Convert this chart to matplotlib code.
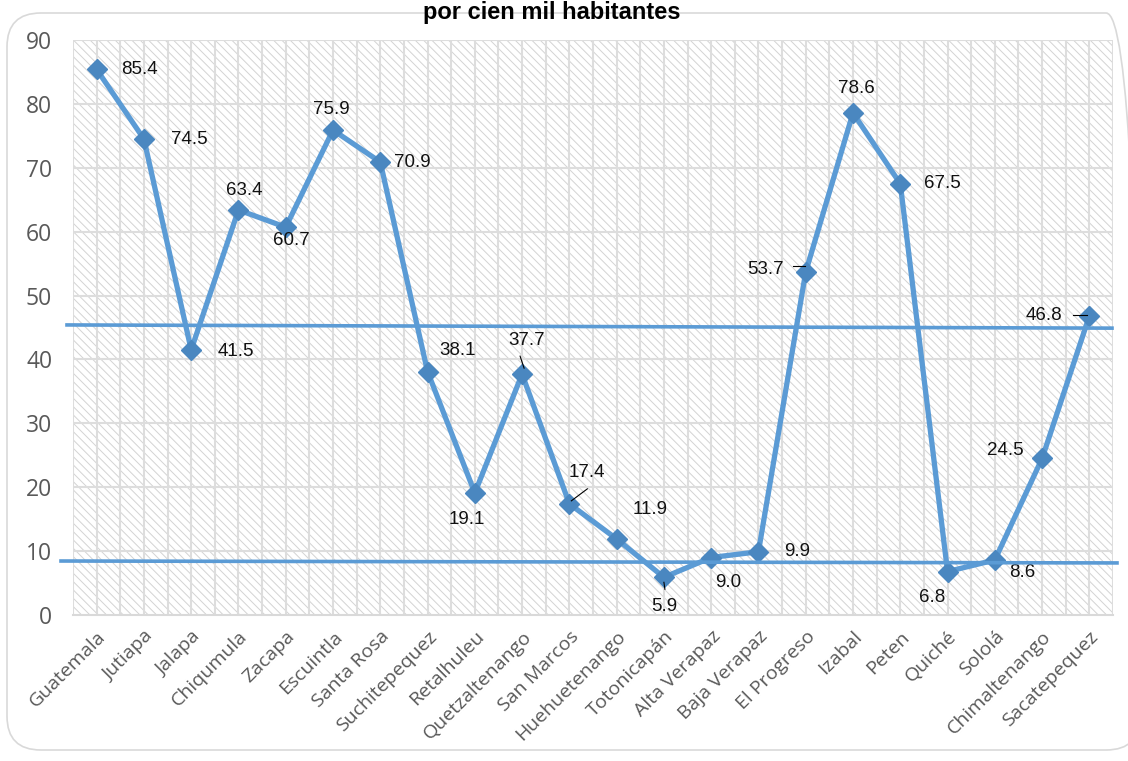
import matplotlib
matplotlib.use("Agg")
import matplotlib.pyplot as plt
from matplotlib.patches import FancyBboxPatch, Rectangle
from matplotlib.lines import Line2D

departments = ["Guatemala", "Jutiapa", "Jalapa", "Chiqumula", "Zacapa", "Escuintla",
               "Santa Rosa", "Suchitepequez", "Retalhuleu", "Quetzaltenango", "San Marcos",
               "Huehuetenango", "Totonicapán", "Alta Verapaz", "Baja Verapaz", "El Progreso",
               "Izabal", "Peten", "Quiché", "Sololá", "Chimaltenango", "Sacatepequez"]
rates = [85.4, 74.5, 41.5, 63.4, 60.7, 75.9, 70.9, 38.1, 19.1, 37.7, 17.4,
         11.9, 5.9, 9.0, 9.9, 53.7, 78.6, 67.5, 6.8, 8.6, 24.5, 46.8]
# hand-drawn reference lines (left value, right value)
upper_ref = [45.4, 44.9]
lower_ref = [8.45, 8.15]

# label offsets in pixels (dx, dy)
offsets = [(43, 0), (45, 0), (45, -2), (6, 19), (6, -13), (-2, 21), (32, 0),
           (30, 21), (-8, -27), (5, 34), (18, 31), (33, 29), (0, -29), (17, -25),
           (39, 0), (-40, 2), (3, 24), (42, 0), (-15, -26), (27, -12), (-37, 8), (-45, 1)]

W, H = 1128, 761
fig = plt.figure(figsize=(W / 100, H / 100), dpi=100)
fig.patch.set_facecolor("white")

# outer rounded frame
frame = FancyBboxPatch((7 / W, 1 - 750 / H), (1140 - 7) / W, (750 - 13) / H,
                       boxstyle="round,pad=0,rounding_size=0.03",
                       transform=fig.transFigure, facecolor="none",
                       edgecolor="#D9D9D9", linewidth=1.2, mutation_aspect=W / H,
                       zorder=-1)
fig.patches.append(frame)

ax = fig.add_axes([73 / W, 1 - 615 / H, (1113 - 73) / W, (615 - 40) / H])
ax.set_facecolor("white")
plt.rcParams["hatch.linewidth"] = 0.7
bg = Rectangle((0, 0), 1, 1, transform=ax.transAxes, facecolor="white",
               edgecolor="#D3D3D3", linewidth=0, hatch="\\\\\\\\", zorder=0)
ax.add_patch(bg)

x = list(range(len(departments)))
ax.set_xlim(-0.5, len(departments) - 0.5)
ax.set_ylim(0, 90)

for v in [i * 0.5 - 0.5 for i in range(2 * len(departments) + 1)]:
    ax.axvline(v, color="#DDDDDD", lw=1.5, zorder=1)
for v in range(10, 100, 10):
    ax.axhline(v, color="#DDDDDD", lw=1.5, zorder=1)

ax.plot(x, rates, color="#5B9BD5", lw=3.8, marker="D", markersize=10,
        markerfacecolor="#4A87C0", markeredgecolor="#4A87C0", zorder=4,
        solid_joinstyle="miter")

for i, (val, (dx, dy)) in enumerate(zip(rates, offsets)):
    ax.annotate(f"{val:.1f}", (i, val), xytext=(dx, dy), textcoords="offset pixels",
                ha="center", va="center", fontsize=13.5,
                family="Liberation Sans", color="#111111", zorder=6)

# leader lines
def leader(i, dx0, dy0, dx1, dy1):
    px, py = ax.transData.transform((i, rates[i]))
    inv = fig.transFigure.inverted()
    a = inv.transform((px + dx0, py + dy0))
    b = inv.transform((px + dx1, py + dy1))
    fig.lines.append(Line2D([a[0], b[0]], [a[1], b[1]], color="black", lw=0.8,
                            transform=fig.transFigure, zorder=7))

leader(9, -2, 18, 2, 6)
leader(10, 18, 15, 2, 3)
leader(12, 0, -5, 1, -12)
leader(15, -13, 6, -1, 6)
leader(21, -16, 1, -2, 1)

# reference lines (slightly sloped, extending beyond the axes on the left)
def ref_line(x0px, x1px, vals):
    t = ax.transData
    inv = fig.transFigure.inverted()
    y0 = t.transform((0, vals[0]))[1]
    y1 = t.transform((0, vals[1]))[1]
    a = inv.transform((x0px, y0))
    b = inv.transform((x1px, y1))
    fig.lines.append(Line2D([a[0], b[0]], [a[1], b[1]], color="#5B9BD5", lw=2.6,
                            transform=fig.transFigure, zorder=8))

ref_line(67, 1112, upper_ref)
ref_line(61, 1117, lower_ref)

ax.set_xticks(x)
ax.set_xticklabels(departments, rotation=45, ha="right", rotation_mode="anchor",
                   fontsize=14, family="Open Sans", color="#595959")
ax.set_yticks(range(0, 100, 10))
ax.set_yticklabels([str(v) for v in range(0, 100, 10)], fontsize=16.5,
                   family="Open Sans", color="#595959")
ax.tick_params(axis="both", length=0)
ax.tick_params(axis="y", pad=15)
ax.tick_params(axis="x", pad=9)
for s in ["top", "right", "left"]:
    ax.spines[s].set_visible(False)
ax.spines["bottom"].set_color("#D9D9D9")
ax.spines["bottom"].set_linewidth(1.5)

fig.text(552 / W, 1 - 1 / H, "por cien mil habitantes",
         ha="center", va="top", fontsize=17, fontweight="bold",
         family="Liberation Sans", color="black")

fig.savefig("out.png", dpi=100)
